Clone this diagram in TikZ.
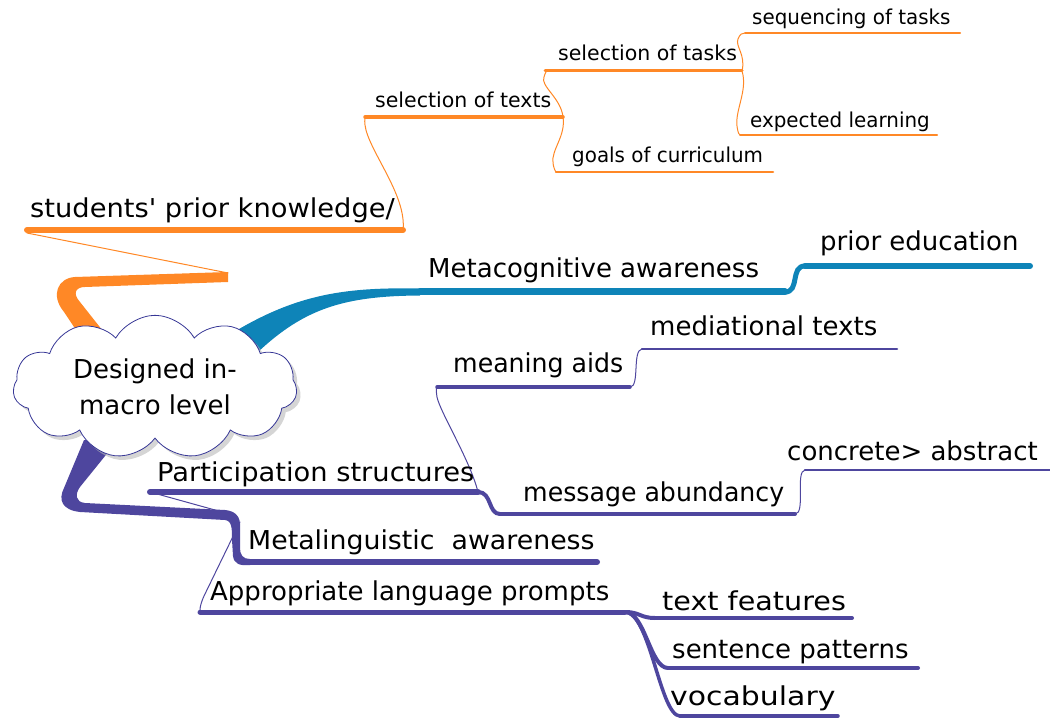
\documentclass[tikz,border=0pt]{standalone}
\usepackage{fontspec}
\setmainfont{DejaVu Sans}[Ligatures=TeXOff]
\usetikzlibrary{shapes.symbols,shadows}
\definecolor{mmorange}{RGB}{255,136,38}
\definecolor{mmblue}{RGB}{14,132,184}
\definecolor{mmpurple}{RGB}{78,70,158}
\definecolor{cloudline}{RGB}{55,55,150}
% horizontally stretched text
\newcommand\hs[2]{\scalebox{#1}[1]{#2}}
\begin{document}
\begin{tikzpicture}[x=1pt,y=-1pt,
  lbl/.style={anchor=base west, inner sep=0pt, text=black},
  bigtext/.style={lbl, font=\fontsize{26}{30}\selectfont},
  smalltext/.style={lbl, font=\fontsize{20.5}{24}\selectfont},
  thinlink/.style={line width=1pt, line cap=round},
  ul/.style={line cap=round, line join=round},
]
\useasboundingbox (0,0) rectangle (1050,719);

% ---------- end points of the underlines ----------
\coordinate (kn-l) at (27,230);   \coordinate (kn-r) at (403,230);
\coordinate (stx-l) at (365,117); \coordinate (stx-r) at (563,117);
\coordinate (stk-l) at (545,71);  \coordinate (stk-r) at (742,71);
\coordinate (seq-l) at (745,33);  \coordinate (seq-r) at (960,33);
\coordinate (exp-l) at (740,135); \coordinate (exp-r) at (937,135);
\coordinate (gol-l) at (556,172); \coordinate (gol-r) at (773,172);
\coordinate (met-l) at (420,292); \coordinate (met-r) at (785,292);
\coordinate (pre-l) at (805,266); \coordinate (pre-r) at (1030,266);
\coordinate (par-l) at (150,492); \coordinate (par-r) at (478,492);
\coordinate (msg-l) at (500,514); \coordinate (msg-r) at (795,514);
\coordinate (mea-l) at (437,387); \coordinate (mea-r) at (630,387);
\coordinate (med-l) at (642,349); \coordinate (med-r) at (897,349);
\coordinate (con-l) at (805,470); \coordinate (con-r) at (1050,470);
\coordinate (mli-l) at (248,562); \coordinate (mli-r) at (597,562);
\coordinate (app-l) at (200,612); \coordinate (app-r) at (625,612);
\coordinate (txf-l) at (655,618); \coordinate (txf-r) at (852,618);
\coordinate (sen-l) at (668,668); \coordinate (sen-r) at (918,668);
\coordinate (voc-l) at (680,716); \coordinate (voc-r) at (838,716);
\coordinate (orange-tip) at (228,273);
\coordinate (trunk-joint) at (233,515);
\coordinate (trunk-side) at (240,522);

% ---------- orange branch ----------
\fill[mmorange] (228,272) -- (75,277) .. controls (58,278) and (50,295) .. (64,312)
  -- (86,345) -- (114,345) -- (80,302) .. controls (72,293) and (76,287) .. (85,287)
  -- (228,282) -- cycle;
\draw[mmorange, thinlink] (orange-tip) -- (27,233);
\draw[mmorange, ul, line width=6pt] (kn-l) -- (kn-r);
\draw[mmorange, thinlink] (kn-r) .. controls (407,195) and (368,150) .. (365,125)
  .. controls (364,119) and (366,117) .. (stx-l);
\draw[mmorange, ul, line width=3.5pt] (stx-l) -- (stx-r);
\draw[mmorange, thinlink] (stx-r) .. controls (561,98) and (540,86) .. (544,77)
  .. controls (545,72) and (548,71) .. (stk-l);
\draw[mmorange, thinlink] (stx-r) .. controls (566,136) and (551,150) .. (553,163)
  .. controls (554,170) and (556,172) .. (gol-l);
\draw[mmorange, ul, line width=3pt] (stk-l) -- (stk-r);
\draw[mmorange, ul, line width=2.5pt] (gol-l) -- (gol-r);
\draw[mmorange, thinlink] (stk-r) .. controls (746,55) and (735,46) .. (738,39)
  .. controls (740,34) and (742,33) .. (seq-l);
\draw[mmorange, thinlink] (stk-r) .. controls (748,90) and (735,110) .. (737,126)
  .. controls (738,133) and (739,135) .. (exp-l);
\draw[mmorange, ul, line width=2pt] (seq-l) -- (seq-r);
\draw[mmorange, ul, line width=2pt] (exp-l) -- (exp-r);

% ---------- blue branch ----------
\fill[mmblue] (218,342) .. controls (290,295) and (340,287) .. (420,288.5)
  -- (420,295.5) .. controls (345,296) and (305,308) .. (258,352) -- cycle;
\draw[mmblue, ul, line width=7pt] (met-l) -- (met-r);
\draw[mmblue, line width=5pt, line cap=round] (met-r) .. controls (800,292) and (790,266) .. (pre-l);
\draw[mmblue, ul, line width=6pt] (pre-l) -- (pre-r);

% ---------- purple branch ----------
\fill[mmpurple] (84,440) -- (64,488) .. controls (58,500) and (62,510) .. (80,512)
  -- (225,520) .. controls (232,521) and (232,528) .. (232,540) -- (233,556)
  .. controls (234,564) and (240,566) .. (250,565) -- (250,559)
  .. controls (243,559) and (240,555) .. (240,548) -- (240,528)
  .. controls (241,516) and (235,511) .. (225,510) -- (85,503)
  .. controls (75,502) and (75,494) .. (80,487) -- (118,440) -- cycle;
\draw[mmpurple, ul, line width=6pt] (mli-l) -- (mli-r);
\draw[mmpurple, thinlink] (par-l) -- (trunk-joint);
\draw[mmpurple, ul, line width=6pt] (par-l) -- (par-r);
\draw[mmpurple, line width=4pt, line cap=round] (par-r) .. controls (492,492) and (488,514) .. (msg-l);
\draw[mmpurple, ul, line width=4pt] (msg-l) -- (msg-r);
\draw[mmpurple, thinlink] (par-r) .. controls (470,460) and (440,412) .. (437,397)
  .. controls (436,390) and (436,387) .. (mea-l);
\draw[mmpurple, ul, line width=3.5pt] (mea-l) -- (mea-r);
\draw[mmpurple, thinlink] (mea-r) .. controls (640,387) and (632,350) .. (med-l);
\draw[mmpurple, ul, line width=2.5pt] (med-l) -- (med-r);
\draw[mmpurple, thinlink] (msg-r) .. controls (806,514) and (795,471) .. (con-l);
\draw[mmpurple, ul, line width=2.5pt] (con-l) -- (con-r);
\draw[mmpurple, thinlink] (trunk-side) -- (204,596) .. controls (199,607) and (200,612) .. (app-l);
\draw[mmpurple, ul, line width=5pt] (app-l) -- (app-r);
\draw[mmpurple, line width=4pt, line cap=round] (app-r) .. controls (640,612) and (640,618) .. (txf-l);
\draw[mmpurple, line width=4pt, line cap=round] (app-r) .. controls (645,612) and (650,668) .. (sen-l);
\draw[mmpurple, line width=3.5pt, line cap=round] (app-r) .. controls (650,612) and (660,716) .. (voc-l);
\draw[mmpurple, ul, line width=4pt] (txf-l) -- (txf-r);
\draw[mmpurple, ul, line width=4pt] (sen-l) -- (sen-r);
\draw[mmpurple, ul, line width=3.5pt] (voc-l) -- (voc-r);

% ---------- central topic ----------
\node[cloud, cloud puffs=11, cloud puff arc=120, aspect=2.1, draw=cloudline, line width=0.8pt,
  fill=white, minimum width=284pt, minimum height=136pt, inner sep=0pt,
  drop shadow={shadow xshift=4pt, shadow yshift=-4pt, fill=gray!55, opacity=.6},
  align=center, font=\fontsize{26}{36}\selectfont] (root) at (155,387)
  {Designed in-\\macro level};

% ---------- labels ----------
\node[bigtext] (knowledge) at (30,218) {\hs{1.05}{students' prior knowledge/}};
\node[smalltext] (texts) at (375,108) {selection of texts};
\node[smalltext] (tasks) at (558,61) {selection of tasks};
\node[smalltext] (sequencing) at (752,25) {\hs{0.97}{sequencing of tasks}};
\node[smalltext] (expected) at (750,128) {\hs{0.97}{expected learning}};
\node[smalltext] (goals) at (572,163) {\hs{0.97}{goals of curriculum}};
\node[bigtext] (metacog) at (428,278) {Metacognitive awareness};
\node[bigtext] (prior) at (820,251) {prior education};
\node[bigtext] (mediational) at (650,336) {mediational texts};
\node[bigtext] (meaning) at (453,373) {\hs{0.97}{meaning aids}};
\node[bigtext] (concrete) at (787,460) {concrete> abstract};
\node[bigtext] (participation) at (157,481) {\hs{1.05}{Participation structures}};
\node[bigtext] (message) at (523,501) {\hs{0.97}{message abundancy}};
\node[bigtext] (metaling) at (248,549) {\hs{1.03}{Metalinguistic\ \ awareness}};
\node[bigtext] (prompts) at (210,600) {Appropriate language prompts};
\node[bigtext] (features) at (662,610) {\hs{1.1}{text features}};
\node[bigtext] (sentence) at (672,658) {sentence patterns};
\node[bigtext] (vocab) at (670,705) {\hs{1.15}{vocabulary}};
\end{tikzpicture}
\end{document}
